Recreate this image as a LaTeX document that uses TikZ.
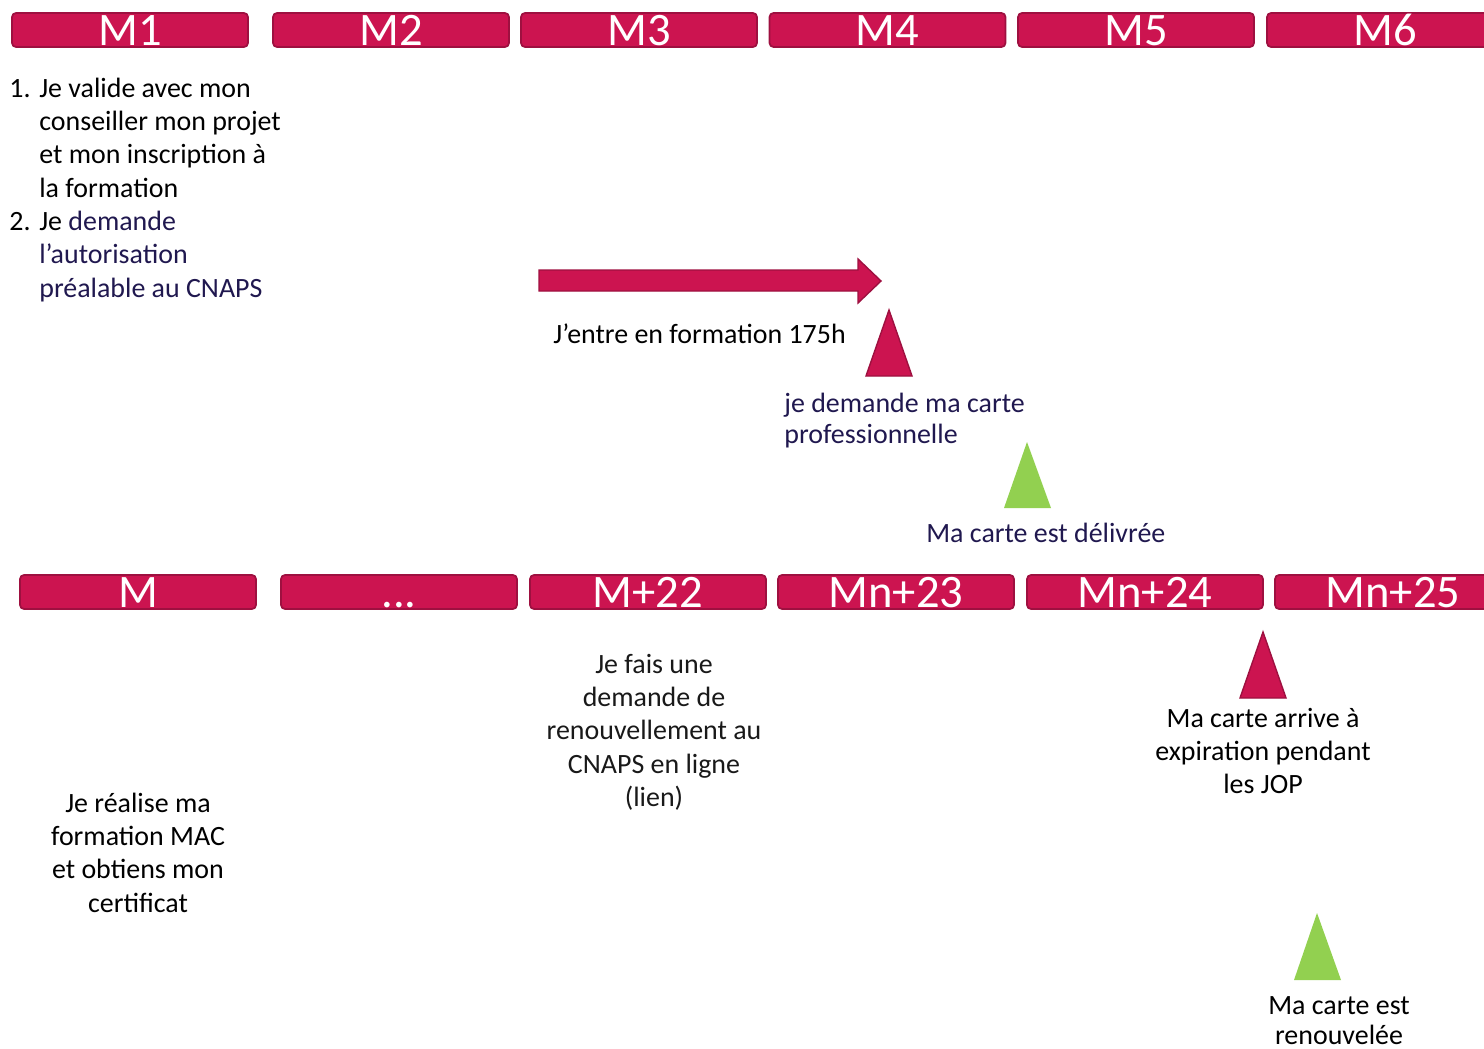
\documentclass[tikz,border=0pt]{standalone}
\usepackage{fontspec}
\setmainfont{Carlito}
\usetikzlibrary{calc}
\definecolor{framboise}{HTML}{CC1450}
\definecolor{framboisefonce}{HTML}{9E1040}
\definecolor{vertpomme}{HTML}{92D050}
\definecolor{encre}{HTML}{20184F}
\tikzstyle{mois}=[rectangle,draw=framboisefonce,fill=framboise,line width=1pt,rounded corners=0.08cm,minimum width=4.72cm,minimum height=0.68cm,inner sep=0pt,text=white,text height=0.63cm,text depth=0pt,font=\fontsize{26.5}{30}\selectfont]
\tikzstyle{etape}=[inner sep=0pt,anchor=base,font=\fontsize{15.9}{19}\selectfont]
\tikzstyle{alerte}=[draw=framboisefonce,fill=framboise,line width=0.8pt,line join=miter]
\tikzstyle{succes}=[fill=vertpomme]
\newcommand{\troispoints}{...}

\begin{document}
\begin{tikzpicture}[x=0.02cm,y=-0.02cm]
\useasboundingbox (0,0) rectangle (1484,1048);
\def \hauthaut {30};
\def \hautbas {592};

% les deux frises de mois
\foreach \x/\lab [count=\i] in {130/M1,391/M2,639/M3,887.5/M4,1136/M5,1385/M6} {
	\node[mois] (m\i) at (\x, \hauthaut) {\lab};
};

\foreach \x/\lab [count=\i] in {138/M,399/\troispoints,648/M+22,896/Mn+23,1145/Mn+24,1393/Mn+25} {
	\node[mois] (n\i) at (\x, \hautbas) {\lab};
};

% premiere periode
\node[etape,anchor=base west] (inscription) at (9,97)
{\begin{tabular}[t]{@{}l@{}l@{}}
	\makebox[0.6cm][l]{1.} & Je valide avec mon\\
	& conseiller mon projet\\
	& et mon inscription à\\
	& la formation\\
	\makebox[0.6cm][l]{2.} & Je \textcolor{encre}{demande}\\
	& \textcolor{encre}{l’autorisation}\\
	& \textcolor{encre}{préalable au CNAPS}
\end{tabular}};

\draw[alerte] (539,270) -- (858,270) -- (858,259) -- (881,281) -- (858,303) -- (858,291) -- (539,291) -- cycle;
\node[etape,anchor=base west] (formation) at (553,343) {J’entre en formation 175h};

\draw[alerte] (866,376) -- (889,310) -- (912,376) -- cycle;
\node[etape,anchor=base west,text=encre,font=\fontsize{15.9}{17.9}\selectfont] (demande) at (784,412)
{\begin{tabular}[t]{@{}l@{}}
	je demande ma carte\\
	professionnelle
\end{tabular}};

\fill[succes] (1004,508) -- (1027,442) -- (1051,508) -- cycle;
\node[etape,anchor=base west,text=encre] (delivree) at (926,542) {Ma carte est délivrée};

% renouvellement
\node[etape] (mac) at (138,812)
{\begin{tabular}[t]{@{}c@{}}
	Je réalise ma\\
	formation MAC\\
	et obtiens mon\\
	certificat
\end{tabular}};

\node[etape,text=black!90] (renouv) at (654,673)
{\begin{tabular}[t]{@{}c@{}}
	Je fais une\\
	demande de\\
	renouvellement au\\
	CNAPS en ligne\\
	(lien)
\end{tabular}};

\draw[alerte] (1240,698) -- (1263,632) -- (1286,698) -- cycle;
\node[etape] (expiration) at (1263,727)
{\begin{tabular}[t]{@{}c@{}}
	Ma carte arrive à\\
	expiration pendant\\
	les JOP
\end{tabular}};

\fill[succes] (1294,980) -- (1317,913) -- (1341,980) -- cycle;
\node[etape,font=\fontsize{15.9}{17.6}\selectfont] (renouvelee) at (1339,1014)
{\begin{tabular}[t]{@{}c@{}}
	Ma carte est\\
	renouvelée
\end{tabular}};

\end{tikzpicture}
\end{document}
